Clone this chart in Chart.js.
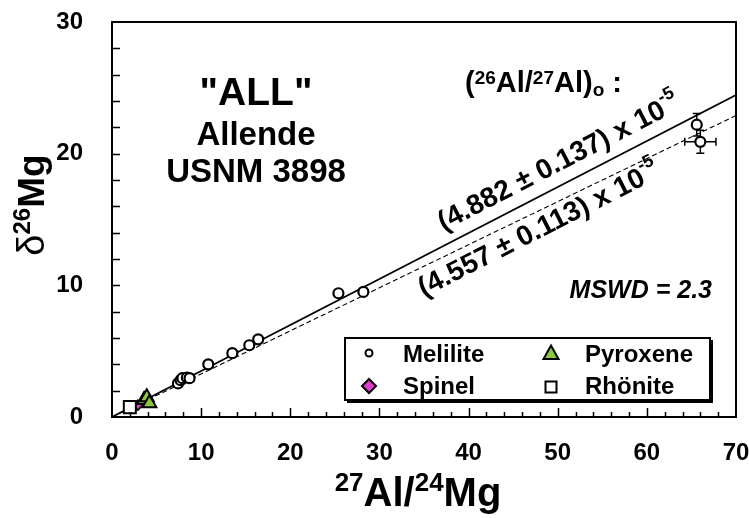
<!DOCTYPE html>
<html><head><meta charset="utf-8">
<script src="https://cdn.jsdelivr.net/npm/chart.js@4.4.0/dist/chart.umd.min.js"></script>
<style>html,body{margin:0;padding:0;background:#fff}#wrap{width:749px;height:518px}</style>
</head><body><div id="wrap"><canvas id="c" width="749" height="518"></canvas></div>
<script>
// ---- data ----
const xTickValues = [0, 10, 20, 30, 40, 50, 60, 70];
const yTickValues = [0, 10, 20, 30];
const meliliteX = [7.4, 7.7, 7.9, 8.4, 8.7, 10.8, 13.5, 15.4, 16.4, 25.4, 28.2, 65.6, 66.0];
const meliliteY = [2.55, 2.8, 2.95, 3.0, 2.95, 4.0, 4.85, 5.45, 5.9, 9.4, 9.5, 22.2, 20.9];
const pyroxeneX = [3.6, 3.9, 4.2];
const pyroxeneY = [1.3, 1.5, 1.05];
const spinelX = [2.9];
const spinelY = [0.9];
const rhoniteX = [2.0];
const rhoniteY = [0.75];
const errX = [65.6, 66.0];
const errY = [22.2, 20.9];
const errDx = [0, 1.75];
const errDy = [0.85, 0.87];
const fitX = [0, 70];
const fitAllY = [0, 24.45];  // (4.882 ± 0.137) x 10^-5
const fitAltY = [0, 22.9];   // (4.557 ± 0.113) x 10^-5
const legendLabels = ['Melilite', 'Pyroxene', 'Spinel', 'Rhönite'];

const FF = '"Liberation Sans", Arial, sans-serif';
const GREEN = '#8DC63F', MAGENTA = '#DE3FD0';
const pts = (xs, ys) => xs.map((v, i) => ({x: v, y: ys[i]}));

function f(size, weight, style) { return (style || '') + ' ' + (weight || 'normal') + ' ' + size + 'px ' + FF; }
function richWidth(ctx, parts) { let w = 0; for (const p of parts) { ctx.font = p.f; w += ctx.measureText(p.t).width; } return w; }
function drawRich(ctx, parts, x, y) { let cx = x; for (const p of parts) { ctx.font = p.f; ctx.fillText(p.t, cx, y + (p.dy || 0)); cx += ctx.measureText(p.t).width; } }

function drawShape(ctx, type, x, y, s, fill) {
  ctx.beginPath();
  if (type === 'circle') ctx.arc(x, y, s, 0, Math.PI * 2);
  else if (type === 'triangle') { ctx.moveTo(x, y - s); ctx.lineTo(x + s * 1.0, y + s * 0.8); ctx.lineTo(x - s * 1.0, y + s * 0.8); ctx.closePath(); }
  else if (type === 'diamond') { ctx.moveTo(x, y - s); ctx.lineTo(x + s, y); ctx.lineTo(x, y + s); ctx.lineTo(x - s, y); ctx.closePath(); }
  else if (type === 'square') { ctx.rect(x - s, y - s, 2 * s, 2 * s); }
  ctx.fillStyle = fill; ctx.fill(); ctx.lineWidth = 2; ctx.strokeStyle = '#000'; ctx.stroke();
}

const decor = {
  id: 'decor',
  beforeDatasetsDraw(chart) {
    const ctx = chart.ctx, xs = chart.scales.x, ys = chart.scales.y;
    ctx.save(); ctx.strokeStyle = '#000'; ctx.lineWidth = 1.5;
    for (let i = 0; i < errX.length; i++) {
      const px = xs.getPixelForValue(errX[i]), py = ys.getPixelForValue(errY[i]);
      if (errDy[i] > 0) {
        const y1 = ys.getPixelForValue(errY[i] + errDy[i]), y2 = ys.getPixelForValue(errY[i] - errDy[i]);
        ctx.beginPath(); ctx.moveTo(px, y1); ctx.lineTo(px, y2);
        ctx.moveTo(px - 4, y1); ctx.lineTo(px + 4, y1); ctx.moveTo(px - 4, y2); ctx.lineTo(px + 4, y2); ctx.stroke();
      }
      if (errDx[i] > 0) {
        const x1 = xs.getPixelForValue(errX[i] - errDx[i]), x2 = xs.getPixelForValue(errX[i] + errDx[i]);
        ctx.beginPath(); ctx.moveTo(x1, py); ctx.lineTo(x2, py);
        ctx.moveTo(x1, py - 4); ctx.lineTo(x1, py + 4); ctx.moveTo(x2, py - 4); ctx.lineTo(x2, py + 4); ctx.stroke();
      }
    }
    ctx.restore();
  },
  afterDatasetsDraw(chart) {
    const ctx = chart.ctx, a = chart.chartArea, xs = chart.scales.x, ys = chart.scales.y;
    ctx.save();
    // frame
    ctx.strokeStyle = '#000'; ctx.lineWidth = 2;
    ctx.strokeRect(a.left, a.top, a.right - a.left, a.bottom - a.top);
    // inward ticks
    ctx.lineWidth = 1.5; ctx.beginPath();
    for (let v = 2; v < 70; v += 2) {
      const px = Math.round(xs.getPixelForValue(v)) + 0.5;
      const len = v % 10 === 0 ? 9 : 5;
      ctx.moveTo(px, a.bottom); ctx.lineTo(px, a.bottom - len);
    }
    for (let v = 2; v < 30; v += 2) {
      const py = Math.round(ys.getPixelForValue(v)) + 0.5;
      ctx.moveTo(a.left, py); ctx.lineTo(a.left + 8, py);
    }
    ctx.stroke();

    ctx.fillStyle = '#000'; ctx.textAlign = 'left'; ctx.textBaseline = 'alphabetic';
    // sample label
    ctx.textAlign = 'center';
    ctx.font = f(39, 'bold'); ctx.fillText('"ALL"', 256, 105);
    ctx.font = f(33, 'bold'); ctx.fillText('Allende', 256, 145);
    ctx.fillText('USNM 3898', 256, 182);
    ctx.textAlign = 'left';
    // header (26Al/27Al)o :
    const hdr = [
      {t: '(', f: f(29, 'bold')}, {t: '26', f: f(19, 'bold'), dy: -8}, {t: 'Al/', f: f(29, 'bold')},
      {t: '27', f: f(19, 'bold'), dy: -8}, {t: 'Al)', f: f(29, 'bold')}, {t: 'o', f: f(19, 'bold'), dy: 4}, {t: ' :', f: f(29, 'bold')}
    ];
    drawRich(ctx, hdr, 465, 92);
    // rotated slope labels
    const ang = (yArr) => Math.atan2(ys.getPixelForValue(yArr[1]) - ys.getPixelForValue(yArr[0]),
                                     xs.getPixelForValue(fitX[1]) - xs.getPixelForValue(fitX[0]));
    const rot = (txt, cx, cy, angle) => {
      const parts = [{t: txt, f: f(28, 'bold')}, {t: '-5', f: f(18, 'bold'), dy: -11}];
      const w = richWidth(ctx, parts);
      ctx.save(); ctx.translate(cx, cy); ctx.rotate(angle);
      ctx.textBaseline = 'middle'; drawRich(ctx, parts, -w / 2, 0); ctx.restore();
    };
    rot('(4.882 \u00B1 0.137) x 10', 559, 163, ang(fitAllY));
    rot('(4.557 \u00B1 0.113) x 10', 539, 230, ang(fitAltY) - 0.02);
    // MSWD
    ctx.textAlign = 'right'; ctx.font = f(25, 'bold', 'italic');
    ctx.fillText('MSWD = 2.3', 712, 298);
    ctx.textAlign = 'left';
    // x title
    const xt = [{t: '27', f: f(26, 'bold'), dy: -15}, {t: 'Al/', f: f(40, 'bold')}, {t: '24', f: f(26, 'bold'), dy: -15}, {t: 'Mg', f: f(40, 'bold')}];
    const xw = richWidth(ctx, xt);
    drawRich(ctx, xt, 418 - xw / 2, 506);
    // y title
    const yt = [{t: '\u03B4', f: f(38)}, {t: '26', f: f(24, 'bold'), dy: -14}, {t: 'Mg', f: f(37, 'bold')}];
    const yw = richWidth(ctx, yt);
    ctx.save(); ctx.translate(44, 205); ctx.rotate(-Math.PI / 2); drawRich(ctx, yt, -yw / 2, 0); ctx.restore();

    // legend
    const L = {x: 345, y: 338, w: 365, h: 62};
    ctx.fillStyle = '#000'; ctx.fillRect(L.x + 2, L.y + 2, L.w + 1, L.h + 1);
    ctx.fillStyle = '#fff'; ctx.fillRect(L.x, L.y, L.w, L.h);
    ctx.lineWidth = 2; ctx.strokeStyle = '#000'; ctx.strokeRect(L.x, L.y, L.w, L.h);
    drawShape(ctx, 'circle', 369, 353, 3.5, '#fff');
    drawShape(ctx, 'triangle', 551, 353, 7.5, GREEN);
    drawShape(ctx, 'diamond', 369, 386, 7, MAGENTA);
    drawShape(ctx, 'square', 551, 387, 5.5, '#fff');
    ctx.fillStyle = '#000'; ctx.font = f(24, 'bold'); ctx.textBaseline = 'alphabetic';
    ctx.fillText(legendLabels[0], 403, 362);
    ctx.fillText(legendLabels[1], 585, 362);
    ctx.fillText(legendLabels[2], 403, 394);
    ctx.fillText(legendLabels[3], 585, 394);
    ctx.restore();
  }
};

const tickFont = {family: FF, size: 24, weight: 'bold'};
new Chart(document.getElementById('c'), {
  type: 'scatter',
  data: {
    datasets: [
      {label: 'fit all', data: pts(fitX, fitAllY), showLine: true, borderColor: '#000', borderWidth: 1.7, pointRadius: 0, order: 2},
      {label: 'fit alt', data: pts(fitX, fitAltY), showLine: true, borderColor: '#000', borderWidth: 1.1, borderDash: [5, 3], pointRadius: 0, order: 2},
      {label: legendLabels[3], data: pts(rhoniteX, rhoniteY), pointStyle: 'rect', pointRadius: 8.5, borderWidth: 2, borderColor: '#000', backgroundColor: '#fff', order: 1},
      {label: legendLabels[2], data: pts(spinelX, spinelY), pointStyle: 'rectRot', pointRadius: 5, borderWidth: 1.5, borderColor: '#000', backgroundColor: MAGENTA, order: 1},
      {label: legendLabels[1], data: pts(pyroxeneX, pyroxeneY), pointStyle: 'triangle', pointRadius: 8, borderWidth: 2, borderColor: '#000', backgroundColor: GREEN, order: 0},
      {label: legendLabels[0], data: pts(meliliteX, meliliteY), pointStyle: 'circle', pointRadius: 5, borderWidth: 2.2, borderColor: '#000', backgroundColor: '#fff', order: 0}
    ]
  },
  options: {
    responsive: false, animation: false, devicePixelRatio: 1,
    layout: {padding: {left: 0, right: 13, top: 22, bottom: 0}},
    plugins: {legend: {display: false}, tooltip: {enabled: false}},
    scales: {
      x: {
        type: 'linear', min: 0, max: 70,
        afterBuildTicks: s => { s.ticks = xTickValues.map(v => ({value: v})); },
        afterFit: s => { s.height = 101; s.paddingLeft = 0; s.paddingRight = 0; },
        grid: {display: false, drawTicks: false}, border: {display: false},
        ticks: {font: tickFont, color: '#000', padding: 22, maxRotation: 0}
      },
      y: {
        type: 'linear', min: 0, max: 30,
        afterBuildTicks: s => { s.ticks = yTickValues.map(v => ({value: v})); },
        afterFit: s => { s.width = 112; s.paddingTop = 0; s.paddingBottom = 0; },
        grid: {display: false, drawTicks: false}, border: {display: false},
        ticks: {font: tickFont, color: '#000', padding: 29}
      }
    }
  },
  plugins: [decor]
});
</script></body></html>
